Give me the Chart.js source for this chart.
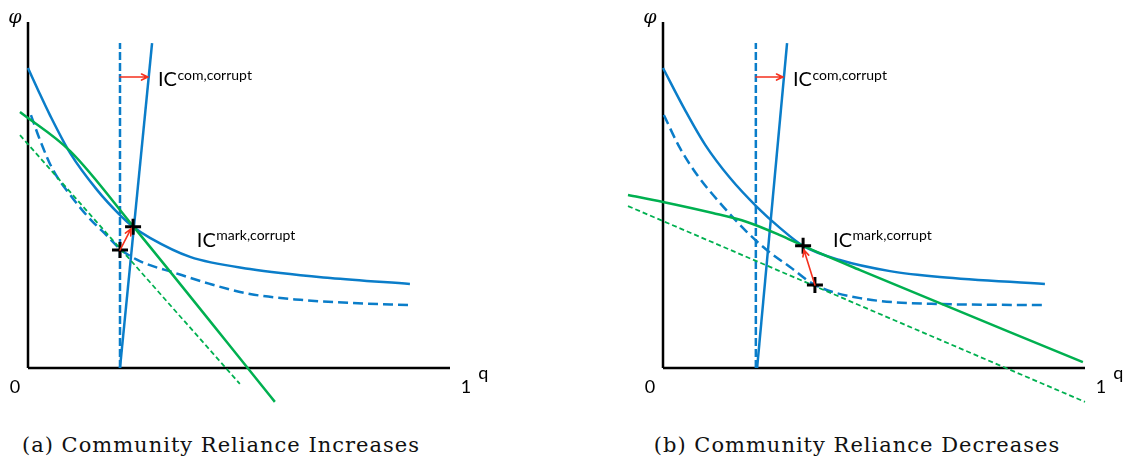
<!DOCTYPE html>
<html><head><meta charset="utf-8">
<script src="https://cdn.jsdelivr.net/npm/chart.js@4.4.1/dist/chart.umd.min.js"></script>
<style>
html,body{margin:0;padding:0;background:#fff;width:1128px;height:475px;overflow:hidden;position:relative}
canvas{position:absolute;top:0}
#ca{left:0}
#cb{left:610px}
.cap{position:absolute;top:435px;font-family:"DejaVu Serif",serif;font-size:21px;line-height:21px;letter-spacing:1px;white-space:nowrap;color:#111;transform:translateX(-50%)}
</style></head><body>
<canvas id="ca" width="600" height="420"></canvas>
<canvas id="cb" width="518" height="420"></canvas>
<div class="cap" style="left:221px">(a) Community Reliance Increases</div>
<div class="cap" style="left:857px">(b) Community Reliance Decreases</div>
<script>
// ---------- data (q, phi) ----------
// Panel (a): Community Reliance Increases
const icMarkSolidA  = [[0,0.867],[0.024,0.803],[0.052,0.731],[0.100,0.621],[0.164,0.514],[0.218,0.442],[0.249,0.408],[0.289,0.376],[0.384,0.321],[0.526,0.286],[0.716,0.260],[0.905,0.243]];
const icMarkDashedA = [[0.007,0.731],[0.028,0.660],[0.059,0.573],[0.100,0.500],[0.140,0.440],[0.194,0.374],[0.218,0.344],[0.265,0.309],[0.348,0.275],[0.431,0.243],[0.526,0.214],[0.645,0.197],[0.763,0.188],[0.905,0.182]];
const icComDashedA  = [[0.218,0],[0.218,0.939]];
const icComSolidA   = [[0.218,0],[0.294,0.939]];
const greenSolidA   = [[-0.019,0.740],[0.100,0.627],[0.249,0.410],[0.585,-0.098]];
const greenDashedA  = [[-0.019,0.673],[0.502,-0.046]];
const markersA      = [[0.249,0.408],[0.218,0.341]];
const arrowsA       = [[[0.218,0.841],[0.284,0.841]],[[0.218,0.341],[0.244,0.402]]];
const icLabelsA     = [[0.308,0.815,'IC','com,corrupt'],[0.400,0.350,'IC','mark,corrupt']];

// Panel (b): Community Reliance Decreases
const icMarkSolidB  = [[0,0.867],[0.052,0.746],[0.100,0.645],[0.159,0.549],[0.223,0.465],[0.277,0.405],[0.332,0.353],[0.419,0.312],[0.538,0.280],[0.656,0.263],[0.905,0.243]];
const icMarkDashedB = [[0.002,0.731],[0.040,0.636],[0.081,0.558],[0.135,0.477],[0.199,0.393],[0.246,0.341],[0.301,0.292],[0.360,0.240],[0.467,0.202],[0.656,0.185],[0.905,0.182]];
const icComDashedB  = [[0.220,0],[0.220,0.939]];
const icComSolidB   = [[0.223,0],[0.294,0.939]];
const greenSolidB   = [[-0.083,0.500],[0,0.480],[0.118,0.448],[0.199,0.422],[0.277,0.384],[0.332,0.353],[0.467,0.283],[0.995,0.017]];
const greenDashedB  = [[-0.083,0.468],[1.0,-0.098]];
const markersB      = [[0.332,0.353],[0.360,0.240]];
const arrowsB       = [[[0.220,0.841],[0.284,0.841]],[[0.360,0.240],[0.334,0.341]]];
const icLabelsB     = [[0.308,0.815,'IC','com,corrupt'],[0.403,0.350,'IC','mark,corrupt']];

// axes and axis texts
const axisX = [[0,0],[1,0]];
const axisY = [[0,0],[0,1]];
const tickLabels = [['0',-0.031,-0.055],['1',1.038,-0.055]];
const axisNames  = [['q',1.079,-0.015],['φ',-0.031,1.012]];

// ---------- styling ----------
const BLUE='#0a7dc9', GREEN='#00b050', RED='#f5301e', BLACK='#000';

function pts(a){return a.map(p=>({x:p[0],y:p[1]}));}
function line(a,color,width,dash,smooth){
  return {data:pts(a),showLine:true,borderColor:color,borderWidth:width,borderDash:dash||[],
    pointRadius:0,pointHoverRadius:0,clip:false,tension:0,
    cubicInterpolationMode:smooth?'monotone':'default',borderCapStyle:'butt'};
}
function markers(a){
  return {data:pts(a),showLine:false,pointStyle:'cross',pointRadius:8,pointBorderWidth:3,
    pointBorderColor:BLACK,borderColor:BLACK,clip:false};
}

const drawPlugin={
  id:'extras',
  afterDatasetsDraw(chart,args,o){
    const ctx=chart.ctx, X=chart.scales.x, Y=chart.scales.y;
    ctx.save();
    ctx.strokeStyle=RED; ctx.lineWidth=1.6; ctx.lineCap='round';
    for(const ar of o.arrows){
      const x1=X.getPixelForValue(ar[0][0]), y1=Y.getPixelForValue(ar[0][1]);
      const x2=X.getPixelForValue(ar[1][0]), y2=Y.getPixelForValue(ar[1][1]);
      const ang=Math.atan2(y2-y1,x2-x1), L=7, s=0.45;
      ctx.beginPath(); ctx.moveTo(x1,y1); ctx.lineTo(x2,y2);
      ctx.moveTo(x2-L*Math.cos(ang-s),y2-L*Math.sin(ang-s)); ctx.lineTo(x2,y2);
      ctx.lineTo(x2-L*Math.cos(ang+s),y2-L*Math.sin(ang+s));
      ctx.stroke();
    }
    ctx.fillStyle='#000'; ctx.textBaseline='alphabetic'; ctx.textAlign='left';
    for(const l of o.labels){
      const px=X.getPixelForValue(l[0]), py=Y.getPixelForValue(l[1]);
      ctx.font='20px Lato'; ctx.fillText(l[2],px,py);
      const w=ctx.measureText(l[2]).width;
      ctx.font='14px Lato'; ctx.fillText(l[3],px+w+0.5,py-6.5);
    }
    ctx.textAlign='center'; ctx.textBaseline='middle';
    ctx.font='18px Lato';
    for(const t of tickLabels){ctx.fillText(t[0],X.getPixelForValue(t[1]),Y.getPixelForValue(t[2]));}
    ctx.fillText(axisNames[0][0],X.getPixelForValue(axisNames[0][1]),Y.getPixelForValue(axisNames[0][2]));
    ctx.font='italic 19px "DejaVu Serif"'; ctx.fillText(axisNames[1][0],X.getPixelForValue(axisNames[1][1]),Y.getPixelForValue(axisNames[1][2]));
    ctx.restore();
  }
};

function makeChart(id,leftPad,rightPad,d){
  return new Chart(document.getElementById(id),{
    type:'scatter',
    data:{datasets:[
      markers(d.markers),
      line(d.greenSolid,GREEN,2.5,null,true),
      line(d.greenDashed,GREEN,1.8,[5,3],false),
      line(d.comSolid,BLUE,2.5,null,false),
      line(d.comDashed,BLUE,2.5,[8,3],false),
      line(d.markSolid,BLUE,2.5,null,true),
      line(d.markDashed,BLUE,2.5,[10,5],true),
      line(axisX,BLACK,2.5,null,false),
      line(axisY,BLACK,2.5,null,false)
    ]},
    options:{
      responsive:false,animation:false,events:[],
      layout:{padding:{left:leftPad,right:rightPad,top:22,bottom:52}},
      scales:{x:{type:'linear',min:0,max:1,display:false},y:{type:'linear',min:0,max:1,display:false}},
      plugins:{legend:{display:false},tooltip:{enabled:false},
        extras:{arrows:d.arrows,labels:d.labels}}
    },
    plugins:[drawPlugin]
  });
}

makeChart('ca',28,150,{markers:markersA,greenSolid:greenSolidA,greenDashed:greenDashedA,comSolid:icComSolidA,comDashed:icComDashedA,markSolid:icMarkSolidA,markDashed:icMarkDashedA,arrows:arrowsA,labels:icLabelsA});
makeChart('cb',53,43,{markers:markersB,greenSolid:greenSolidB,greenDashed:greenDashedB,comSolid:icComSolidB,comDashed:icComDashedB,markSolid:icMarkSolidB,markDashed:icMarkDashedB,arrows:arrowsB,labels:icLabelsB});
</script>
</body></html>
